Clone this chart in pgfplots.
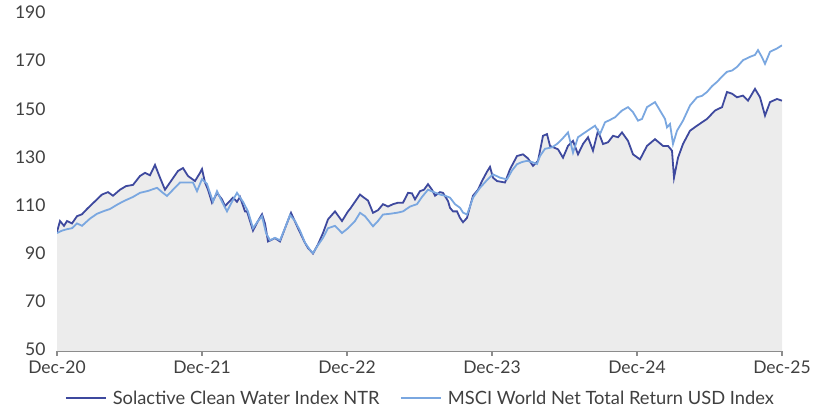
\documentclass[border=0pt]{standalone}
\usepackage{pgfplots}
\pgfplotsset{compat=1.18}
\usepackage{pgfplotstable}
\usepackage{fontspec}
\setmainfont{Lato}
\definecolor{darkb}{RGB}{62,73,158}
\definecolor{lightb}{RGB}{122,167,224}
\definecolor{fillg}{RGB}{236,236,236}
\definecolor{txt}{RGB}{64,64,64}
\definecolor{axg}{RGB}{140,140,140}

\pgfplotstableread{
x y
0 99.5
3 104
7 102
10 104
15 103
20 106
25 106.8
30 109
35 111
40 113
45 115
51 116
56 114.5
63 117
69 118.5
76 119
83 122.7
88 124
93 123
98 127.3
103 122
108 117
113 120
121 124.8
126 126
131 122.7
138 120.6
143 124
145 125.6
148 120
151 117
155 111.6
160 115.7
165 113
168 110.2
176 113.7
180 112
183 114
188 108
190 108
196 100
201 104
205 106.8
208 103
211 95.5
218 96.9
223 95.5
228 101
234 107.4
241 101
248 94.9
251 92.8
256 90.5
261 94.3
266 99
271 104.7
278 108
285 104
291 108
293 109
298 112
303 115
306 114
311 112.5
316 107.4
321 108.5
326 111
331 110
336 111
341 111.6
346 111.6
351 115.7
355 115.5
358 113
363 116.4
367 117
371 119.3
375 117
378 114.5
383 116
386 115.7
391 112.3
393 109.5
396 108
400 108
403 105.3
406 103.5
410 105.3
413 110
416 114.5
421 117
425 120.6
430 124.5
433 126.5
436 122
440 120.6
448 120
453 125.5
460 131
466 131.7
471 130
476 126.9
481 129
486 139.4
490 140.1
493 135.2
501 133.8
506 130.3
511 135.2
516 137.3
521 131.7
526 136
531 138.8
536 133.2
541 141.5
546 136
551 136.7
556 139.4
561 138.8
565 140.8
571 137.3
576 131.7
583 129.6
590 135.2
598 138
606 135.2
611 135.2
615 133.2
617 122
621 130.3
626 136
633 141.5
640 143.6
650 146.4
658 149.9
665 151.3
670 157.6
675 156.9
680 155.4
686 156.1
691 154
698 158.9
703 155.4
708 147.8
713 153.4
720 154.7
725 154
}\solactive

\pgfplotstableread{
x y
0 99
5 100
10 100.6
15 101
20 103
25 102
33 105
40 107
46 108
53 109
61 111
68 112.5
76 114
83 115.7
91 116.5
100 117.8
105 116
110 114.4
116 117
123 120
130 120
136 120
140 116.4
145 121.4
150 119.4
156 112
160 116.4
165 112
170 108
175 112
180 115.7
186 112
191 108
196 101
201 104
205 106
209 99
213 96
218 97
223 96
228 101
233 106.5
238 104
243 100
248 95
253 92
256 90.7
261 94
266 97
271 101
278 102
285 99
291 101
298 104
303 107.4
308 106
316 101.8
321 104
326 106.7
333 107
341 107.5
346 108
353 110
360 111
365 114
371 117
377 116
383 115
388 114.5
393 113.7
398 111
403 109.5
406 107.5
410 106.7
413 110
416 113.7
423 117.8
430 121
436 123.4
443 122
450 121.3
455 125
460 127.6
465 128.5
470 129
475 128.5
480 127.7
483 131
488 134
495 134.6
500 136
505 138
511 140.8
516 132.4
521 138.8
528 140.8
533 142.2
538 143.6
543 140.1
548 145
553 146
558 147.1
565 149.9
571 151.3
576 149.2
581 145.7
585 146.4
590 151.3
598 153.4
603 149.9
608 146.4
610 142.9
613 144.3
616 136
620 141.5
626 145.7
633 152
640 155.4
645 156
650 157.6
655 160
660 161.8
665 164
670 166
675 166.5
680 168
686 170.8
693 172.2
698 173
701 175
705 172
708 169.3
713 174.3
720 175.7
725 177
}\msci

\begin{document}
\begin{tikzpicture}
\path[use as bounding box] (0,0) rectangle (816pt,411pt);
\begin{axis}[
  at={(57pt,60pt)}, anchor=south west,
  scale only axis, width=725pt, height=337pt,
  xmin=0, xmax=725, ymin=50, ymax=190,
  axis x line*=bottom, axis y line*=left,
  x axis line style={-, draw=axg, line width=2pt},
  y axis line style={draw=none},
  xtick={0,145,290,435,580,725},
  xticklabels={Dec-20,Dec-21,Dec-22,Dec-23,Dec-24,Dec-25},
  ytick={50,70,90,110,130,150,170,190},
  tick align=outside,
  major x tick style={draw=axg, line width=1.2pt},
  major tick length=5pt,
  major y tick style={draw=none},
  /pgf/number format/assume math mode=true,
  ticklabel style={font=\fontsize{17.5}{20}\selectfont, text=txt},
  xticklabel style={yshift=-1pt},
  yticklabel style={xshift=-3pt, yshift=1.5pt},
  legend style={at={(0.501,-0.14)}, anchor=center, draw=none, fill=none,
    font=\fontsize{18.3}{21}\selectfont, text=txt, legend columns=2,
    /tikz/every even column/.append style={column sep=18pt}},
  legend image code/.code={\draw[#1, line width=2.6pt] (0pt,0pt) -- (40pt,0pt); \path (44pt,0pt);},
  legend cell align=left,
]
\addplot[draw=none, fill=fillg, forget plot] table[x=x,y=y] {\solactive} \closedcycle;
\addplot[darkb, line width=1.8pt] table[x=x,y=y] {\solactive};
\addplot[lightb, line width=1.8pt] table[x=x,y=y] {\msci};
\legend{Solactive Clean Water Index NTR, MSCI World Net Total Return USD Index}
\end{axis}
\end{tikzpicture}
\end{document}
